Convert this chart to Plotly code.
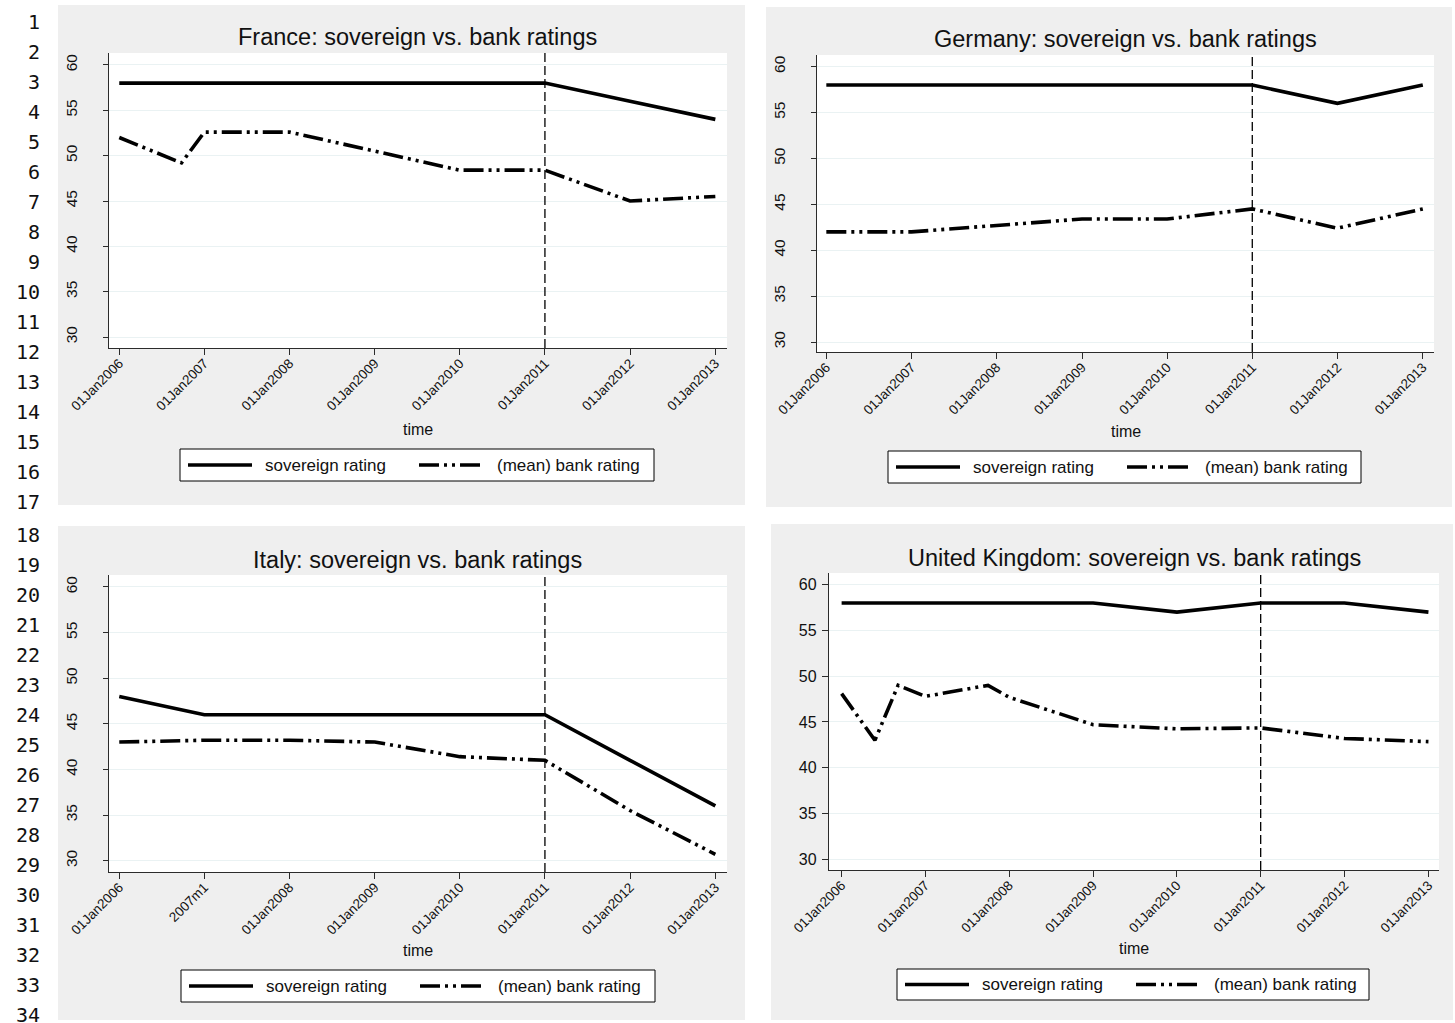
import plotly.graph_objects as go

W, H = 1455, 1023
FONT = "Liberation Sans, Arial, sans-serif"
MONO = "DejaVu Sans Mono, monospace"
INK = "#111111"
AXIS = "#2b2b2b"
GRID = "rgb(234,242,243)"
PANEL_BG = "rgb(239,239,239)"
BANK_DASH = "20px,5px,3px,5px,3px,5px"

# ---- data -----------------------------------------------------------------
year_ticks = ["2006-01-01", "2007-01-01", "2008-01-01", "2009-01-01",
              "2010-01-01", "2011-01-01", "2012-01-01", "2013-01-01"]
tick_labels = ["01Jan2006", "01Jan2007", "01Jan2008", "01Jan2009",
               "01Jan2010", "01Jan2011", "01Jan2012", "01Jan2013"]
tick_labels_italy = ["01Jan2006", "2007m1", "01Jan2008", "01Jan2009",
                     "01Jan2010", "01Jan2011", "01Jan2012", "01Jan2013"]
rating_ticks = [30, 35, 40, 45, 50, 55, 60]
cutoff_date = "2011-01-01"

france_sov_dates = year_ticks
france_sov = [58, 58, 58, 58, 58, 58, 56, 54]
france_bank_dates = ["2006-01-01", "2006-09-25", "2007-01-01", "2008-01-01",
                     "2009-01-01", "2010-01-01", "2011-01-01", "2012-01-01",
                     "2013-01-01"]
france_bank = [52.0, 49.2, 52.6, 52.6, 50.5, 48.4, 48.4, 45.0, 45.5]

germany_sov_dates = year_ticks
germany_sov = [58, 58, 58, 58, 58, 58, 56, 58]
germany_bank_dates = year_ticks
germany_bank = [42.0, 42.0, 42.7, 43.4, 43.4, 44.5, 42.4, 44.5]

italy_sov_dates = year_ticks
italy_sov = [48, 46, 46, 46, 46, 46, 41, 36]
italy_bank_dates = year_ticks
italy_bank = [43.0, 43.2, 43.2, 43.0, 41.4, 41.0, 35.5, 30.7]

uk_sov_dates = year_ticks
uk_sov = [58, 58, 58, 58, 57, 58, 58, 57]
uk_bank_dates = ["2006-01-01", "2006-05-26", "2006-09-04", "2007-01-01",
                 "2007-10-01", "2008-01-01", "2009-01-01", "2010-01-01",
                 "2011-01-01", "2012-01-01", "2013-01-01"]
uk_bank = [48.1, 43.0, 49.0, 47.8, 49.0, 47.7, 44.7, 44.25, 44.35, 43.2, 42.85]

# ---- panel geometry (pixels) ----------------------------------------------
panels = [
    dict(title="France: sovereign vs. bank ratings",
         sov=(france_sov_dates, france_sov), bank=(france_bank_dates, france_bank),
         ticktext=tick_labels, xrange=["2005-11-18", "2013-02-20"],
         yrange=[28.79, 61.32], plot=(109, 53, 727, 348), box=(58, 5, 745, 505),
         yangle=-90, time_y=429, legend=(180, 449, 654, 481)),
    dict(title="Germany: sovereign vs. bank ratings",
         sov=(germany_sov_dates, germany_sov), bank=(germany_bank_dates, germany_bank),
         ticktext=tick_labels, xrange=["2005-11-22", "2013-02-18"],
         yrange=[28.91, 61.27], plot=(817, 55, 1434, 352), box=(766, 7, 1452, 507),
         yangle=-90, time_y=431, legend=(888, 451, 1361, 483)),
    dict(title="Italy: sovereign vs. bank ratings",
         sov=(italy_sov_dates, italy_sov), bank=(italy_bank_dates, italy_bank),
         ticktext=tick_labels_italy, xrange=["2005-11-18", "2013-02-20"],
         yrange=[28.76, 61.31], plot=(109, 575, 727, 872), box=(58, 526, 745, 1020),
         yangle=-90, time_y=950, legend=(181, 970, 655, 1002)),
    dict(title="United Kingdom: sovereign vs. bank ratings",
         sov=(uk_sov_dates, uk_sov), bank=(uk_bank_dates, uk_bank),
         ticktext=tick_labels, xrange=["2005-11-07", "2013-02-16"],
         yrange=[28.82, 61.28], plot=(829, 573, 1439, 870), box=(771, 524, 1453, 1020),
         yangle=0, time_y=948, legend=(897, 969, 1369, 1000)),
]


def px(x):
    return x / W


def py(y):
    return 1 - y / H


fig = go.Figure()
shapes = []
annotations = []

for i, p in enumerate(panels, start=1):
    sx = "" if i == 1 else str(i)
    xa, ya = "x" + sx, "y" + sx
    l, t, r, b = p["plot"]
    upright = p["yangle"] == 0

    fig.add_trace(go.Scatter(x=p["sov"][0], y=p["sov"][1], mode="lines",
                             name="sovereign rating", showlegend=False,
                             line=dict(color="black", width=3.6),
                             xaxis=xa, yaxis=ya))
    fig.add_trace(go.Scatter(x=p["bank"][0], y=p["bank"][1], mode="lines",
                             name="(mean) bank rating", showlegend=False,
                             line=dict(color="black", width=3.6, dash=BANK_DASH),
                             xaxis=xa, yaxis=ya))

    fig.layout["xaxis" + sx] = dict(
        type="date", domain=[px(l), px(r)], anchor=ya, range=p["xrange"],
        automargin=False,
        tickmode="array", tickvals=year_ticks, ticktext=p["ticktext"],
        tickangle=-45, ticks="outside", ticklen=6, tickwidth=1.2, tickcolor=AXIS,
        ticklabelstandoff=-5,
        showline=True, linecolor=AXIS, linewidth=1.3, showgrid=False,
        zeroline=False, tickfont=dict(family=FONT, size=13.5, color=INK))
    fig.layout["yaxis" + sx] = dict(
        domain=[py(b), py(t)], anchor=xa, range=p["yrange"],
        automargin=False,
        tickmode="array", tickvals=rating_ticks, tickangle=p["yangle"],
        ticks="outside", ticklen=6 if upright else 5, tickwidth=1.2,
        tickcolor=AXIS, ticklabelstandoff=2 if upright else 20,
        showline=True, linecolor=AXIS, linewidth=1.3,
        showgrid=True, gridcolor=GRID, gridwidth=1.3, zeroline=False,
        tickfont=dict(family=FONT, size=16 if upright else 15.5, color=INK))

    # grey graph region and white plot region
    bl, bt, br, bb = p["box"]
    shapes.append(dict(type="rect", xref="paper", yref="paper", layer="below",
                       x0=px(bl), x1=px(br), y0=py(bb), y1=py(bt),
                       fillcolor=PANEL_BG, line=dict(width=0)))
    shapes.append(dict(type="rect", xref=xa + " domain", yref=ya + " domain",
                       layer="below", x0=0, x1=1, y0=0, y1=1,
                       fillcolor="white", line=dict(width=0)))
    # vertical reference line
    shapes.append(dict(type="line", xref=xa, yref=ya + " domain",
                       x0=cutoff_date, x1=cutoff_date, y0=0, y1=1,
                       line=dict(color="black", width=1.3, dash="9px,4px")))

    cx = (l + r) / 2
    annotations.append(dict(text=p["title"], x=px(cx), y=py(t - 15.5),
                            xref="paper", yref="paper", showarrow=False,
                            xanchor="center", yanchor="middle",
                            font=dict(family=FONT, size=23.5, color=INK)))
    annotations.append(dict(text="time", x=px(cx), y=py(p["time_y"]),
                            xref="paper", yref="paper", showarrow=False,
                            xanchor="center", yanchor="middle",
                            font=dict(family=FONT, size=16, color=INK)))

    # legend box
    gl, gt, gr, gb = p["legend"]
    gm = (gt + gb) / 2
    shapes.append(dict(type="rect", xref="paper", yref="paper",
                       x0=px(gl), x1=px(gr), y0=py(gb), y1=py(gt),
                       fillcolor="white", line=dict(color="black", width=1)))
    shapes.append(dict(type="line", xref="paper", yref="paper",
                       x0=px(gl + 8), x1=px(gl + 72), y0=py(gm), y1=py(gm),
                       line=dict(color="black", width=3.6)))
    shapes.append(dict(type="line", xref="paper", yref="paper",
                       x0=px(gl + 239), x1=px(gl + 302), y0=py(gm), y1=py(gm),
                       line=dict(color="black", width=3.6, dash=BANK_DASH)))
    annotations.append(dict(text="sovereign rating", x=px(gl + 83), y=py(gm),
                            xref="paper", yref="paper", showarrow=False,
                            xanchor="left", yanchor="middle",
                            font=dict(family=FONT, size=17, color=INK)))
    annotations.append(dict(text="(mean) bank rating", x=px(gl + 315), y=py(gm),
                            xref="paper", yref="paper", showarrow=False,
                            xanchor="left", yanchor="middle",
                            font=dict(family=FONT, size=17, color=INK)))

# document line numbers down the left margin
for n in range(1, 35):
    yline = 21.7 + (n - 1) * 30 if n <= 17 else 535 + (n - 18) * 30
    annotations.append(dict(text=str(n), x=px(42), y=py(yline),
                            xref="paper", yref="paper", showarrow=False,
                            xanchor="right", yanchor="middle",
                            font=dict(family=MONO, size=20, color=INK)))

fig.update_layout(width=W, height=H, margin=dict(l=0, r=0, t=0, b=0, autoexpand=False),
                  paper_bgcolor="white", plot_bgcolor="white",
                  showlegend=False, shapes=shapes, annotations=annotations)

fig.write_html("out.html")
